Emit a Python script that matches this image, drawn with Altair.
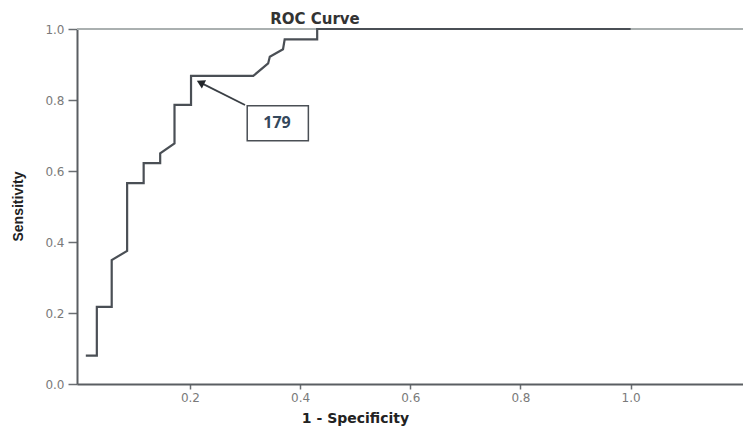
import altair as alt
import pandas as pd

# ROC curve vertices (1 - specificity, sensitivity)
fpr = [0.011, 0.031, 0.031, 0.058, 0.058, 0.086, 0.086, 0.116, 0.116, 0.146, 0.146,
       0.172, 0.172, 0.202, 0.202, 0.315, 0.342, 0.345, 0.369, 0.372, 0.431, 0.431, 1.0]
tpr = [0.080, 0.080, 0.217, 0.217, 0.349, 0.375, 0.566, 0.566, 0.622, 0.622, 0.650,
       0.678, 0.786, 0.786, 0.868, 0.868, 0.903, 0.922, 0.943, 0.971, 0.971, 1.0, 1.0]

x_ticks = [0.2, 0.4, 0.6, 0.8, 1.0]
y_ticks = [0.0, 0.2, 0.4, 0.6, 0.8, 1.0]

# annotation "179" (cut-off point) in data units
label_text = ["179"]
label_x = [0.358]
label_y = [0.734]
box_x = [0.304]
box_x2 = [0.415]
box_y = [0.685]
box_y2 = [0.784]
arrow_from_x = [0.300]
arrow_from_y = [0.786]
arrow_tip_x = [0.219]
arrow_tip_y = [0.849]

curve = pd.DataFrame({"fpr": fpr, "tpr": tpr, "order": list(range(len(fpr)))})
ann = pd.DataFrame({
    "text": label_text, "lx": label_x, "ly": label_y,
    "bx": box_x, "bx2": box_x2, "by": box_y, "by2": box_y2,
    "ax": arrow_from_x, "ay": arrow_from_y, "tx": arrow_tip_x, "ty": arrow_tip_y,
})

W, H = 666, 355
xscale = alt.Scale(domain=[-0.005, 1.204], nice=False, zero=False)
yscale = alt.Scale(domain=[0, 1], nice=False)

xaxis = alt.Axis(
    values=x_ticks, format=".1f", title="1 - Specificity", grid=False,
    domainColor="#5a5e62", domainWidth=2, tickColor="#6a6e72", tickSize=5, tickWidth=1.5,
    labelColor="#7a7a7a", labelFont="DejaVu Sans", labelFontSize=12, labelPadding=3,
    titleFont="DejaVu Sans", titleFontSize=14, titleFontWeight="bold", titleColor="#222222",
    titleX=278, titleY=34, titleBaseline="middle", titleAnchor="start", titleAlign="center",
)
yaxis = alt.Axis(
    values=y_ticks, format=".1f", title="Sensitivity", grid=False,
    domainColor="#5a5e62", domainWidth=2, tickColor="#6a6e72", tickSize=9, tickWidth=1.5,
    labelColor="#7a7a7a", labelFont="DejaVu Sans", labelFontSize=12, labelPadding=4,
    titleFont="Liberation Sans", titleFontSize=14, titleFontWeight="bold", titleColor="#222222",
    titleX=-59, titleY=177, titleAngle=-90, titleBaseline="middle", titleAlign="center",
    titleAnchor="start",
)

frame = alt.Chart(curve).mark_rule(color="#aab0b0", strokeWidth=1.5).encode(
    y=alt.datum(1.0, scale=yscale, axis=yaxis)
)

line = alt.Chart(curve).mark_line(color="#4a4f55", strokeWidth=2.2, clip=False).encode(
    x=alt.X("fpr:Q", scale=xscale, axis=xaxis),
    y=alt.Y("tpr:Q", scale=yscale, axis=yaxis),
    order="order:Q",
)

box = alt.Chart(ann).mark_rect(fill="white", stroke="#4a4f55", strokeWidth=1.5).encode(
    x="bx:Q", x2="bx2:Q", y="by:Q", y2="by2:Q"
)
arrow = alt.Chart(ann).mark_rule(color="#3a3f45", strokeWidth=1.8).encode(
    x="ax:Q", y="ay:Q", x2="tx:Q", y2="ty:Q"
)
head = alt.Chart(ann).mark_point(shape="triangle-up", filled=True, color="#22262a",
                                 size=85, angle=297, opacity=1).encode(
    x="tx:Q", y="ty:Q"
)
label = alt.Chart(ann).mark_text(font="Open Sans", fontSize=16, fontWeight="bold",
                                 color="#34485c").encode(
    x="lx:Q", y="ly:Q", text="text:N"
)

chart = alt.layer(frame, line, arrow, head, box, label).properties(
    width=W, height=H,
    title=alt.TitleParams("ROC Curve", font="DejaVu Sans", fontSize=15, fontWeight="bold",
                          color="#333333", anchor="middle", dx=-95, dy=9, offset=5),
    autosize=alt.AutoSizeParams(type="none"),
    padding={"left": 69, "top": 21, "right": 0, "bottom": 46},
).configure_view(
    fill="#f4f4f4", stroke=None
).configure(background="white")

chart.save("out.html", embed_options={"renderer": "svg", "actions": False})
